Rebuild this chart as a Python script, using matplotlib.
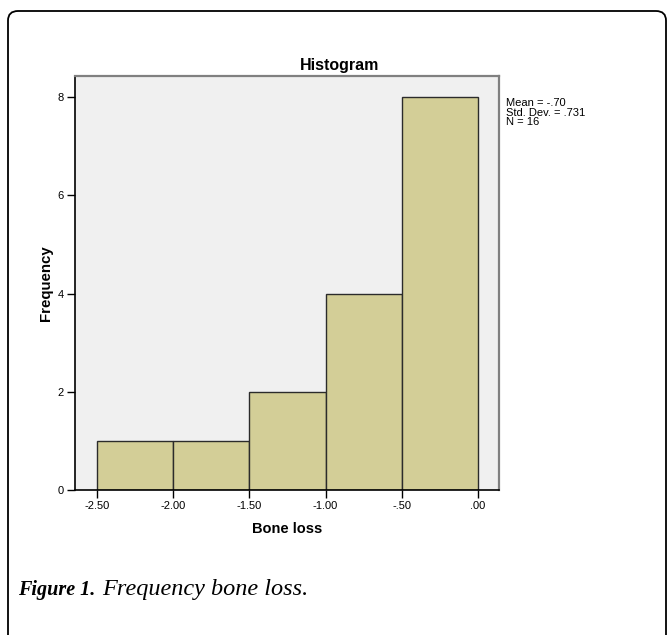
import matplotlib
matplotlib.use("Agg")
import matplotlib.pyplot as plt
from matplotlib.patches import FancyBboxPatch

# Histogram of bone loss (bin edges and counts)
bin_edges = [-2.5, -2.0, -1.5, -1.0, -0.5, 0.0]
counts = [1, 1, 2, 4, 8]
x_ticks = [-2.5, -2.0, -1.5, -1.0, -0.5, 0.0]
x_tick_labels = ["-2.50", "-2.00", "-1.50", "-1.00", "-.50", ".00"]
y_ticks = [0, 2, 4, 6, 8]
stats_text = "Mean = -.70\nStd. Dev. = .731\nN = 16"

W, H = 668, 635
fig = plt.figure(figsize=(W / 100, H / 100), dpi=100)
plt.rcParams["font.family"] = ["Liberation Sans", "DejaVu Sans"]

# rounded frame around the figure
frame = FancyBboxPatch((8 / W, -0.05), (658 / W), 1 - 11 / H + 0.05,
                       boxstyle="round,pad=0,rounding_size=0.015",
                       transform=fig.transFigure, fill=False,
                       edgecolor="black", linewidth=1.3)
fig.patches.append(frame)

# axes box in pixels: left 75, right 499, top 76, bottom 490
ax = fig.add_axes([75 / W, 1 - 490 / H, (499 - 75) / W, (490 - 76) / H])
ax.set_facecolor("#f0f0f0")

widths = [bin_edges[i + 1] - bin_edges[i] for i in range(len(counts))]
ax.bar(bin_edges[:-1], counts, width=widths, align="edge",
       color="#d3ce97", edgecolor="#2b2b2b", linewidth=1.0)

ax.set_xlim(-2.644, 0.138)
ax.set_ylim(0, 8.43)
ax.set_xticks(x_ticks)
ax.set_xticklabels(x_tick_labels)
ax.set_yticks(y_ticks)
ax.tick_params(labelsize=8, length=6, width=1, color="black", pad=2)

for s in ["left", "bottom"]:
    ax.spines[s].set_color("black")
    ax.spines[s].set_linewidth(1.2)
for s in ["top", "right"]:
    ax.spines[s].set_color("#808080")
    ax.spines[s].set_linewidth(1.6)

# SPSS centres the title over the whole chart area incl. the stats box
fig.text(340 / W, 1 - 70 / H, "Histogram", fontsize=11.5, fontweight="bold",
         ha="center", va="baseline")
ax.set_xlabel("Bone loss", fontsize=10.5, fontweight="bold", labelpad=8)
ax.set_ylabel("Frequency", fontsize=10.8, fontweight="bold", labelpad=3)

fig.text(506 / W, 1 - 98 / H, stats_text, fontsize=8, va="top", ha="left",
         linespacing=0.95)

# caption
cap_y = 1 - 595 / H
t1 = fig.text(18 / W, cap_y, "Figure 1.", family="Liberation Serif",
              fontsize=14.5, fontweight="bold", style="italic", va="baseline")
fig.canvas.draw()
bb = t1.get_window_extent(fig.canvas.get_renderer())
fig.text((bb.x1 + 7) / W, cap_y, "Frequency bone loss.",
         family="Liberation Serif", fontsize=17.5, style="italic",
         va="baseline")

fig.savefig("out.png", dpi=100)
